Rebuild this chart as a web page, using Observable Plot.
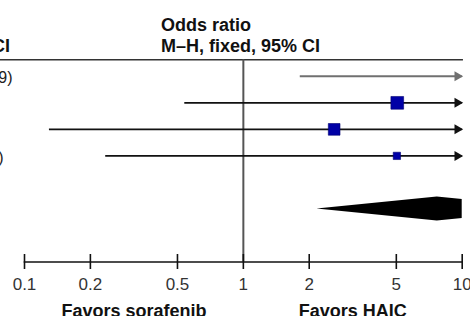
<!DOCTYPE html>
<html><head><meta charset="utf-8">
<script src="https://cdn.jsdelivr.net/npm/d3@7"></script>
<script src="https://cdn.jsdelivr.net/npm/@observablehq/plot@0.6"></script>
<style>
html,body{margin:0;padding:0;background:#fff;overflow:hidden}
#chart svg{display:block}
</style></head><body><div id="chart"></div>
<script>
// ---- data ----
const rows = [1, 2, 3, 4];
const orEst = [18.0, 5.05, 2.60, 5.03];
const ciLow = [1.82, 0.54, 0.13, 0.235];
const ciHigh = [178.09, 47.09, 51.90, 107.66];
const weights = [1.3, 45.3, 38.4, 15.0];
const headerLines = ["Odds ratio", "M–H, fixed, 95% CI"];
const totalRow = 6;
const totalOR = 7.69, totalLow = 2.17, totalHigh = 27.0;
const xTicks = [0.1, 0.2, 0.5, 1, 2, 5, 10];
const xTickLabels = ["0.1", "0.2", "0.5", "1", "2", "5", "10"];
const favorLabels = ["Favors sorafenib", "Favors HAIC"];

// ---- derived ----
const f2 = d3.format(".2f");
const studies = rows.map((r, i) => ({
  row: r, est: orEst[i], lo: ciLow[i], hi: ciHigh[i], w: weights[i],
  label: `${f2(orEst[i])} (${f2(ciLow[i])}–${f2(ciHigh[i])})`
}));
const xMin = xTicks[0], xMax = xTicks[xTicks.length - 1];
const offScale = d => d.est > xMax;

const W = 470, H = 316, mL = 24, mR = 8.3, mT = 59.3, mB = 54.5;
const yDom = [0.378, 8];
const plotH = H - mT - mB;
const rowPx = plotH / (yDom[1] - yDom[0]);
const tickHalf = 7.5;
const halfH = 12 / rowPx;
const totalPts = [
  {x: totalLow, y1: totalRow, y2: totalRow},
  {x: totalOR, y1: totalRow - halfH, y2: totalRow + halfH},
  {x: totalHigh, y1: totalRow, y2: totalRow}
];
const favorX = [Math.sqrt(xMin * 1), Math.sqrt(xMax * 1)];
const font = "'Liberation Sans', Arial, Helvetica, sans-serif";

const chart = Plot.plot({
  width: W, height: H,
  marginLeft: mL, marginRight: mR, marginTop: mT, marginBottom: mB,
  style: {fontFamily: font, background: "#fff", overflow: "visible"},
  x: {type: "log", domain: [xMin, xMax], axis: null},
  y: {domain: yDom, reverse: true, axis: null},
  r: {type: "sqrt", domain: [0, 100], range: [0, 10.65]},
  marks: [
    // header rule
    Plot.frame({anchor: "top", insetLeft: -mL, stroke: "#333", strokeWidth: 1.5}),
    // line of no effect
    Plot.ruleX([1], {stroke: "#555", strokeWidth: 2}),
    // x axis line + ticks
    Plot.frame({anchor: "bottom", stroke: "#111", strokeWidth: 1.6}),
    Plot.ruleX(xTicks, {x: d => d, insetTop: plotH - tickHalf, insetBottom: -tickHalf, stroke: "#111", strokeWidth: 1.6}),
    // CI lines
    Plot.ruleY(studies, {filter: d => !offScale(d), y: "row", x1: "lo", x2: "hi", stroke: "#111", strokeWidth: 1.8, clip: true}),
    Plot.ruleY(studies, {filter: offScale, y: "row", x1: "lo", x2: "hi", stroke: "#707070", strokeWidth: 2, clip: true}),
    // arrows for CIs beyond the axis
    Plot.dot(studies, {filter: d => d.hi > xMax && !offScale(d), y: "row", frameAnchor: "right", symbol: "triangle", rotate: 90, r: 3.71, dx: -4.8, fill: "#111", stroke: "none"}),
    Plot.dot(studies, {filter: d => d.hi > xMax && offScale(d), y: "row", frameAnchor: "right", symbol: "triangle", rotate: 90, r: 3.71, dx: -4.8, fill: "#707070", stroke: "none"}),
    // study squares
    Plot.dot(studies, {x: "est", y: "row", r: "w", symbol: "square", fill: "#0000a6", stroke: "#000070", strokeWidth: 0.6, clip: true}),
    // pooled diamond
    Plot.areaY(totalPts, {x: "x", y1: "y1", y2: "y2", fill: "#000", curve: "linear", clip: true}),
    // headers
    Plot.text([headerLines.join("\n")], {text: d => d, frameAnchor: "top-left", dx: 136.5, dy: -8.3, textAnchor: "start", lineAnchor: "bottom", lineHeight: 21 / 18, fontSize: 18, fontWeight: "bold", fill: "#111"}),
    Plot.text([headerLines.join("\n")], {text: d => d, frameAnchor: "top-left", dx: -173.5, dy: -8.3, textAnchor: "start", lineAnchor: "bottom", lineHeight: 21 / 18, fontSize: 18, fontWeight: "bold", fill: "#111"}),
    // CI text column (mostly off the left edge)
    Plot.text(studies, {y: "row", text: "label", frameAnchor: "left", dx: -156.1, dy: 7, textAnchor: "start", lineAnchor: "bottom", fontSize: 16, fill: "#222"}),
    // tick labels
    Plot.text(xTicks, {x: d => d, text: (d, i) => xTickLabels[i], frameAnchor: "bottom", dy: 27.5, lineAnchor: "bottom", fontSize: 17, fill: "#333"}),
    // favors labels
    Plot.text(favorLabels, {x: (d, i) => favorX[i], text: d => d, frameAnchor: "bottom", dy: 54.7, lineAnchor: "bottom", fontSize: 18, fontWeight: "bold", fill: "#111"})
  ]
});
document.getElementById("chart").appendChild(chart);
</script>
</body></html>
